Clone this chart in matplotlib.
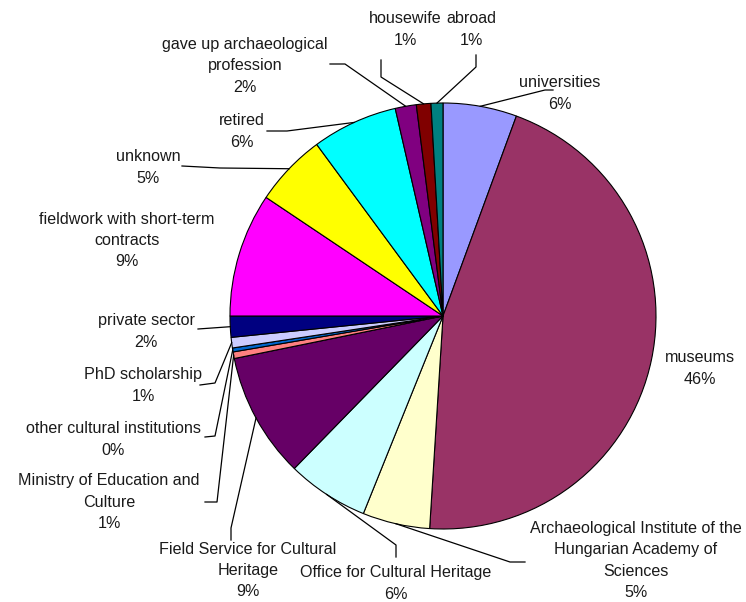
import numpy as np
import matplotlib.pyplot as plt

plt.rcParams['font.family'] = ['Liberation Sans', 'DejaVu Sans']

# Kategorie (zgodnie z ruchem wskazówek zegara od góry)
labels = ['universities', 'museums',
          'Archaeological Institute of the\nHungarian Academy of\nSciences',
          'Office for Cultural Heritage', 'Field Service for Cultural\nHeritage',
          'Ministry of Education and\nCulture', 'other cultural institutions',
          'PhD scholarship', 'private sector', 'fieldwork with short-term\ncontracts',
          'unknown', 'retired', 'gave up archaeological\nprofession', 'housewife', 'abroad']
shares = [5.6, 45.4, 5.1, 6.2, 9.5, 0.5, 0.3, 0.8, 1.6, 9.4, 5.5, 6.5, 1.6, 1.1, 0.9]
pct_labels = ['6%', '46%', '5%', '6%', '9%', '1%', '0%', '1%', '2%', '9%',
              '5%', '6%', '2%', '1%', '1%']
colors = ['#9999FF', '#993366', '#FFFFCC', '#CCFFFF', '#660066', '#FF8080', '#0066CC',
          '#CCCCFF', '#000080', '#FF00FF', '#FFFF00', '#00FFFF', '#800080', '#800000',
          '#008080']

W, H = 746, 602


def p(x, y):
    # piksele -> współrzędne osi
    return x, H - y


# Położenie tekstu i załamania linii odniesienia (w pikselach)
text_pos = [(560, 92), (700, 367), (636, 559), (396, 582), (248, 569), (109, 501),
            (113, 438), (143, 384), (146, 330), (127, 239), (148, 166), (242, 130),
            (245, 64), (405, 28), (471, 28)]
leader_pts = [[(553, 90), (545, 90)], None, [(525, 562), (510, 562)],
              [(396, 557), (396, 545)], [(231, 540), (231, 528)],
              [(205, 502), (217, 502)], [(205, 437), (215, 436)],
              [(200, 385), (215, 383)], [(198, 329)], None,
              [(182, 166), (220, 168)], [(267, 131), (287, 131)],
              [(330, 64), (345, 64)], [(381, 60), (381, 77)], [(476, 55), (476, 67)]]
line_step = 21.5

fig = plt.figure(figsize=(W / 100, H / 100), dpi=100)
ax = fig.add_axes([0, 0, 1, 1])
ax.set_xlim(0, W)
ax.set_ylim(0, H)
ax.set_aspect('equal')
ax.axis('off')

cx, cy = p(443, 316)
r = 213
wedges, _ = ax.pie(shares, colors=colors, startangle=90, counterclock=False,
                   center=(cx, cy), radius=r, normalize=True,
                   wedgeprops=dict(edgecolor='black', linewidth=0.8))
ax.set_xlim(0, W)
ax.set_ylim(0, H)

for w, lab, pct, tp, lp in zip(wedges, labels, pct_labels, text_pos, leader_pts):
    # każdą linię etykiety osobno, żeby odstępy były jak w oryginale
    lines = lab.split('\n') + [pct]
    n = len(lines)
    for i, s in enumerate(lines):
        tx, ty = p(tp[0], tp[1] + (i - (n - 1) / 2) * line_step)
        ax.text(tx, ty, s, ha='center', va='center_baseline', fontsize=11.6,
                color='#1a1a1a')
    if lp is not None:
        ang = np.deg2rad((w.theta1 + w.theta2) / 2)
        rim = (cx + r * np.cos(ang), cy + r * np.sin(ang))
        pts = [p(*q) for q in lp] + [rim]
        xs, ys = zip(*pts)
        ax.plot(xs, ys, color='black', linewidth=0.9)

plt.savefig('out.png', dpi=100)
